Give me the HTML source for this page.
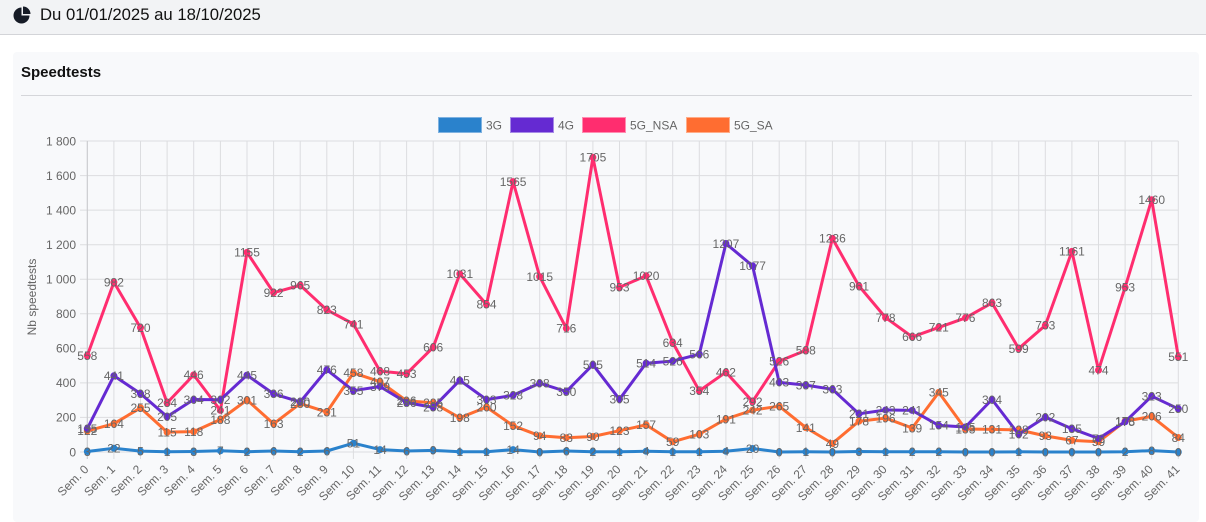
<!DOCTYPE html>
<html><head><meta charset="utf-8"><style>
html,body{margin:0;padding:0;background:#fff;width:1206px;height:505px;overflow:hidden;font-family:"Liberation Sans",Arial,sans-serif}
.hdr{position:absolute;left:0;top:0;width:1206px;height:35px;background:#f2f3f5;border-bottom:1px solid #d3d4d8;box-sizing:border-box}
.hdr .t{position:absolute;left:40px;top:5px;font-size:16.7px;color:#111;line-height:20px}
.card{position:absolute;left:13px;top:52px;width:1186px;height:470px;background:#f8f9fb;border-radius:4px}
.ttl{position:absolute;left:21px;top:64px;font-size:15px;font-weight:bold;color:#111}
.hr{position:absolute;left:21px;top:95px;width:1171px;height:1px;background:#d5d6da}
svg{position:absolute;left:0;top:0}
</style></head><body>
<div class="hdr">
<svg width="40" height="35" viewBox="0 0 40 35"><path d="M21.5,15.5 L21.5,7.5 A8,8 0 1,0 29.5,15.5 Z" fill="#161b26"/><path d="M23,14 L23,6.5 A7.5,7.5 0 0,1 30.5,14 Z" fill="#161b26"/></svg>
<div class="t">Du 01/01/2025 au 18/10/2025</div></div>
<div class="card"></div>
<div class="ttl">Speedtests</div>
<div class="hr"></div>
<svg width="1206" height="505" viewBox="0 0 1206 505" font-family="Liberation Sans, Arial, sans-serif" font-size="12">
<defs>
<marker id="m1" markerWidth="8" markerHeight="8" refX="4" refY="4" markerUnits="userSpaceOnUse"><circle cx="4" cy="4" r="3.5" fill="#2a82cc"/></marker>
<marker id="m2" markerWidth="8" markerHeight="8" refX="4" refY="4" markerUnits="userSpaceOnUse"><circle cx="4" cy="4" r="3.5" fill="#652ad2"/></marker>
<marker id="m3" markerWidth="8" markerHeight="8" refX="4" refY="4" markerUnits="userSpaceOnUse"><circle cx="4" cy="4" r="3.5" fill="#ff2d6f"/></marker>
<marker id="m4" markerWidth="8" markerHeight="8" refX="4" refY="4" markerUnits="userSpaceOnUse"><circle cx="4" cy="4" r="3.5" fill="#ff6d31"/></marker>
</defs>
<!-- legend -->
<rect x="438.5" y="117.5" width="43" height="15" fill="#2a82cc" stroke="#7fb2e0" stroke-width="1"/>
<text x="486" y="129.5" fill="#666">3G</text>
<rect x="510.5" y="117.5" width="43" height="15" fill="#652ad2" stroke="#a68ae6" stroke-width="1"/>
<text x="558" y="129.5" fill="#666">4G</text>
<rect x="582.5" y="117.5" width="43" height="15" fill="#ff2d6f" stroke="#ff8cb0" stroke-width="1"/>
<text x="630" y="129.5" fill="#666">5G_NSA</text>
<rect x="686.5" y="117.5" width="43" height="15" fill="#ff6d31" stroke="#ffac88" stroke-width="1"/>
<text x="734" y="129.5" fill="#666">5G_SA</text>
<!-- grid -->
<path stroke="#dcdde0" stroke-width="1" fill="none" d="M80,141H1178.3M80,175.6H1178.3M80,210.1H1178.3M80,244.7H1178.3M80,279.2H1178.3M80,313.8H1178.3M80,348.3H1178.3M80,382.9H1178.3M80,417.4H1178.3M80,452H1178.3
M87.3,141V459M113.9,141V459M140.5,141V459M167.1,141V459M193.7,141V459M220.4,141V459M247,141V459M273.6,141V459M300.2,141V459M326.8,141V459M353.4,141V459M380,141V459M406.6,141V459M433.2,141V459M459.8,141V459M486.5,141V459M513.1,141V459M539.7,141V459M566.3,141V459M592.9,141V459M619.5,141V459M646.1,141V459M672.7,141V459M699.3,141V459M725.9,141V459M752.6,141V459M779.2,141V459M805.8,141V459M832.4,141V459M859,141V459M885.6,141V459M912.2,141V459M938.8,141V459M965.4,141V459M992,141V459M1018.7,141V459M1045.3,141V459M1071.9,141V459M1098.5,141V459M1125.1,141V459M1151.7,141V459M1178.3,141V459"/>
<path stroke="#c9cacd" stroke-width="1" d="M87.3,141V459"/>
<!-- y ticks -->
<g fill="#666" text-anchor="end">
<text x="76" y="145.3">1 800</text>
<text x="76" y="179.9">1 600</text>
<text x="76" y="214.4">1 400</text>
<text x="76" y="249">1 200</text>
<text x="76" y="283.5">1 000</text>
<text x="76" y="318.1">800</text>
<text x="76" y="352.6">600</text>
<text x="76" y="387.2">400</text>
<text x="76" y="421.7">200</text>
<text x="76" y="456.3">0</text>
</g>
<text transform="translate(36,297) rotate(-90)" text-anchor="middle" fill="#666">Nb speedtests</text>
<!-- x labels -->
<g fill="#666" text-anchor="end">
<text x="89.3" y="470" transform="rotate(-45 89.3 470)">Sem. 0</text>
<text x="115.9" y="470" transform="rotate(-45 115.9 470)">Sem. 1</text>
<text x="142.5" y="470" transform="rotate(-45 142.5 470)">Sem. 2</text>
<text x="169.1" y="470" transform="rotate(-45 169.1 470)">Sem. 3</text>
<text x="195.7" y="470" transform="rotate(-45 195.7 470)">Sem. 4</text>
<text x="222.4" y="470" transform="rotate(-45 222.4 470)">Sem. 5</text>
<text x="249" y="470" transform="rotate(-45 249 470)">Sem. 6</text>
<text x="275.6" y="470" transform="rotate(-45 275.6 470)">Sem. 7</text>
<text x="302.2" y="470" transform="rotate(-45 302.2 470)">Sem. 8</text>
<text x="328.8" y="470" transform="rotate(-45 328.8 470)">Sem. 9</text>
<text x="355.4" y="470" transform="rotate(-45 355.4 470)">Sem. 10</text>
<text x="382" y="470" transform="rotate(-45 382 470)">Sem. 11</text>
<text x="408.6" y="470" transform="rotate(-45 408.6 470)">Sem. 12</text>
<text x="435.2" y="470" transform="rotate(-45 435.2 470)">Sem. 13</text>
<text x="461.8" y="470" transform="rotate(-45 461.8 470)">Sem. 14</text>
<text x="488.5" y="470" transform="rotate(-45 488.5 470)">Sem. 15</text>
<text x="515.1" y="470" transform="rotate(-45 515.1 470)">Sem. 16</text>
<text x="541.7" y="470" transform="rotate(-45 541.7 470)">Sem. 17</text>
<text x="568.3" y="470" transform="rotate(-45 568.3 470)">Sem. 18</text>
<text x="594.9" y="470" transform="rotate(-45 594.9 470)">Sem. 19</text>
<text x="621.5" y="470" transform="rotate(-45 621.5 470)">Sem. 20</text>
<text x="648.1" y="470" transform="rotate(-45 648.1 470)">Sem. 21</text>
<text x="674.7" y="470" transform="rotate(-45 674.7 470)">Sem. 22</text>
<text x="701.3" y="470" transform="rotate(-45 701.3 470)">Sem. 23</text>
<text x="727.9" y="470" transform="rotate(-45 727.9 470)">Sem. 24</text>
<text x="754.6" y="470" transform="rotate(-45 754.6 470)">Sem. 25</text>
<text x="781.2" y="470" transform="rotate(-45 781.2 470)">Sem. 26</text>
<text x="807.8" y="470" transform="rotate(-45 807.8 470)">Sem. 27</text>
<text x="834.4" y="470" transform="rotate(-45 834.4 470)">Sem. 28</text>
<text x="861" y="470" transform="rotate(-45 861 470)">Sem. 29</text>
<text x="887.6" y="470" transform="rotate(-45 887.6 470)">Sem. 30</text>
<text x="914.2" y="470" transform="rotate(-45 914.2 470)">Sem. 31</text>
<text x="940.8" y="470" transform="rotate(-45 940.8 470)">Sem. 32</text>
<text x="967.4" y="470" transform="rotate(-45 967.4 470)">Sem. 33</text>
<text x="994" y="470" transform="rotate(-45 994 470)">Sem. 34</text>
<text x="1020.7" y="470" transform="rotate(-45 1020.7 470)">Sem. 35</text>
<text x="1047.3" y="470" transform="rotate(-45 1047.3 470)">Sem. 36</text>
<text x="1073.9" y="470" transform="rotate(-45 1073.9 470)">Sem. 37</text>
<text x="1100.5" y="470" transform="rotate(-45 1100.5 470)">Sem. 38</text>
<text x="1127.1" y="470" transform="rotate(-45 1127.1 470)">Sem. 39</text>
<text x="1153.7" y="470" transform="rotate(-45 1153.7 470)">Sem. 40</text>
<text x="1180.3" y="470" transform="rotate(-45 1180.3 470)">Sem. 41</text>
</g>
<!-- series -->
<g fill="none" stroke-width="3" stroke-linejoin="round">
<polyline stroke="#ff6d31" marker-start="url(#m4)" marker-mid="url(#m4)" marker-end="url(#m4)" points="87.3,430.9 113.9,423.7 140.5,407.9 167.1,432.1 193.7,431.6 220.4,419.5 247,400 273.6,423.8 300.2,403.6 326.8,412.1 353.4,372.9 380,381.7 406.6,400.9 433.2,402.8 459.8,417.8 486.5,407.1 513.1,425.7 539.7,435.8 566.3,437.7 592.9,436.5 619.5,430.7 646.1,424.9 672.7,441.8 699.3,434.2 725.9,419 752.6,410.2 779.2,406.2 805.8,427.6 832.4,443.5 859,421.2 885.6,418.1 912.2,428 938.8,392.4 965.4,429 992,429.4 1018.7,429.9 1045.3,435.9 1071.9,440.4 1098.5,441.8 1125.1,421.2 1151.7,416.4 1178.3,437.5"/>
<polyline stroke="#ff2d6f" marker-start="url(#m3)" marker-mid="url(#m3)" marker-end="url(#m3)" points="87.3,355.6 113.9,282.3 140.5,327.6 167.1,402.9 193.7,374.9 220.4,410.4 247,252.4 273.6,292.7 300.2,285.3 326.8,309.8 353.4,324 380,371.1 406.6,373.7 433.2,347.3 459.8,273.9 486.5,304.4 513.1,181.6 539.7,276.6 566.3,328.3 592.9,157.4 619.5,287.3 646.1,275.8 672.7,342.5 699.3,390.8 725.9,372.2 752.6,401.5 779.2,361.1 805.8,350.4 832.4,238.4 859,286 885.6,317.6 912.2,336.9 938.8,327.4 965.4,317.9 992,302.9 1018.7,348.5 1045.3,325.4 1071.9,251.4 1098.5,370.1 1125.1,287.3 1151.7,199.7 1178.3,356.8"/>
<polyline stroke="#652ad2" marker-start="url(#m2)" marker-mid="url(#m2)" marker-end="url(#m2)" points="87.3,428.7 113.9,375.8 140.5,393.6 167.1,416.6 193.7,399.5 220.4,399.8 247,375.1 273.6,393.9 300.2,401.9 326.8,369.8 353.4,390.7 380,386.5 406.6,402.6 433.2,407.4 459.8,380.3 486.5,399.6 513.1,395.3 539.7,383.2 566.3,391.5 592.9,364.7 619.5,399.3 646.1,363.2 672.7,361.1 699.3,354.2 725.9,243.5 752.6,265.9 779.2,382.4 805.8,385.1 832.4,389.3 859,413.8 885.6,410 912.2,410.4 938.8,425.4 965.4,427 992,399.5 1018.7,434.4 1045.3,417.1 1071.9,428.7 1098.5,438.5 1125.1,421.8 1151.7,396.2 1178.3,408.8"/>
<polyline stroke="#2a82cc" marker-start="url(#m1)" marker-mid="url(#m1)" marker-end="url(#m1)" points="87.3,451.5 113.9,448.2 140.5,451.1 167.1,451.8 193.7,451.5 220.4,450.8 247,451.7 273.6,451 300.2,451.7 326.8,451 353.4,443.2 380,449.6 406.6,451 433.2,450.4 459.8,451.8 486.5,451.8 513.1,449.6 539.7,452 566.3,451 592.9,451.7 619.5,451.8 646.1,451.3 672.7,451.8 699.3,451.8 725.9,451.3 752.6,448.5 779.2,452 805.8,451.8 832.4,452 859,451.5 885.6,451.8 912.2,451.7 938.8,451.7 965.4,452 992,452 1018.7,451.8 1045.3,452 1071.9,452 1098.5,452 1125.1,451.7 1151.7,450.6 1178.3,452"/>
</g>
<!-- data labels -->
<g fill="#666" text-anchor="middle">
<text x="87.3" y="455.8">3</text><text x="113.9" y="452.5">22</text><text x="140.5" y="455.4">5</text><text x="167.1" y="456.1">1</text><text x="193.7" y="455.8">3</text><text x="220.4" y="455.1">7</text><text x="247" y="456">2</text><text x="273.6" y="455.3">6</text><text x="300.2" y="456">2</text><text x="326.8" y="455.3">6</text><text x="353.4" y="447.5">51</text><text x="380" y="453.9">14</text><text x="406.6" y="455.3">6</text><text x="433.2" y="454.7">9</text><text x="459.8" y="456.1">1</text><text x="486.5" y="456.1">1</text><text x="513.1" y="453.9">14</text><text x="539.7" y="456.3">0</text><text x="566.3" y="455.3">6</text><text x="592.9" y="456">2</text><text x="619.5" y="456.1">1</text><text x="646.1" y="455.6">4</text><text x="672.7" y="456.1">1</text><text x="699.3" y="456.1">1</text><text x="725.9" y="455.6">4</text><text x="752.6" y="452.8">20</text><text x="779.2" y="456.3">0</text><text x="805.8" y="456.1">1</text><text x="832.4" y="456.3">0</text><text x="859" y="455.8">3</text><text x="885.6" y="456.1">1</text><text x="912.2" y="456">2</text><text x="938.8" y="456">2</text><text x="965.4" y="456.3">0</text><text x="992" y="456.3">0</text><text x="1018.7" y="456.1">1</text><text x="1045.3" y="456.3">0</text><text x="1071.9" y="456.3">0</text><text x="1098.5" y="456.3">0</text><text x="1125.1" y="456">2</text><text x="1151.7" y="454.9">8</text><text x="1178.3" y="456.3">0</text>

<text x="87.3" y="433">135</text><text x="113.9" y="380.1">441</text><text x="140.5" y="397.9">338</text><text x="167.1" y="420.9">205</text><text x="193.7" y="403.8">304</text><text x="220.4" y="404.1">302</text><text x="247" y="379.4">445</text><text x="273.6" y="398.2">336</text><text x="300.2" y="406.2">290</text><text x="326.8" y="374.1">476</text><text x="353.4" y="395">355</text><text x="380" y="390.8">379</text><text x="406.6" y="406.9">286</text><text x="433.2" y="411.7">258</text><text x="459.8" y="384.6">415</text><text x="486.5" y="403.9">303</text><text x="513.1" y="399.6">328</text><text x="539.7" y="387.5">398</text><text x="566.3" y="395.8">350</text><text x="592.9" y="369">505</text><text x="619.5" y="403.6">305</text><text x="646.1" y="367.5">514</text><text x="672.7" y="365.4">526</text><text x="699.3" y="358.5">566</text><text x="725.9" y="247.8">1207</text><text x="752.6" y="270.2">1077</text><text x="779.2" y="386.7">403</text><text x="805.8" y="389.4">387</text><text x="832.4" y="393.6">363</text><text x="859" y="418.1">221</text><text x="885.6" y="414.3">243</text><text x="912.2" y="414.7">241</text><text x="938.8" y="429.7">154</text><text x="965.4" y="431.3">145</text><text x="992" y="403.8">304</text><text x="1018.7" y="438.7">102</text><text x="1045.3" y="421.4">202</text><text x="1071.9" y="433">135</text><text x="1098.5" y="442.8">78</text><text x="1125.1" y="426.1">175</text><text x="1151.7" y="400.5">323</text><text x="1178.3" y="413.1">250</text>

<text x="87.3" y="359.9">558</text><text x="113.9" y="286.6">982</text><text x="140.5" y="331.9">720</text><text x="167.1" y="407.2">284</text><text x="193.7" y="379.2">446</text><text x="220.4" y="414.7">241</text><text x="247" y="256.7">1155</text><text x="273.6" y="297">922</text><text x="300.2" y="289.6">965</text><text x="326.8" y="314.1">823</text><text x="353.4" y="328.3">741</text><text x="380" y="375.4">468</text><text x="406.6" y="378">453</text><text x="433.2" y="351.6">606</text><text x="459.8" y="278.2">1031</text><text x="486.5" y="308.7">854</text><text x="513.1" y="185.9">1565</text><text x="539.7" y="280.9">1015</text><text x="566.3" y="332.6">716</text><text x="592.9" y="161.7">1705</text><text x="619.5" y="291.6">953</text><text x="646.1" y="280.1">1020</text><text x="672.7" y="346.8">634</text><text x="699.3" y="395.1">354</text><text x="725.9" y="376.5">462</text><text x="752.6" y="405.8">292</text><text x="779.2" y="365.4">526</text><text x="805.8" y="354.7">588</text><text x="832.4" y="242.7">1236</text><text x="859" y="290.3">961</text><text x="885.6" y="321.9">778</text><text x="912.2" y="341.2">666</text><text x="938.8" y="331.7">721</text><text x="965.4" y="322.2">776</text><text x="992" y="307.2">863</text><text x="1018.7" y="352.8">599</text><text x="1045.3" y="329.7">733</text><text x="1071.9" y="255.7">1161</text><text x="1098.5" y="374.4">474</text><text x="1125.1" y="291.6">953</text><text x="1151.7" y="204">1460</text><text x="1178.3" y="361.1">551</text>

<text x="87.3" y="435.2">122</text><text x="113.9" y="428">164</text><text x="140.5" y="412.2">255</text><text x="167.1" y="436.4">115</text><text x="193.7" y="435.9">118</text><text x="220.4" y="423.8">188</text><text x="247" y="404.3">301</text><text x="273.6" y="428.1">163</text><text x="300.2" y="407.9">280</text><text x="326.8" y="416.4">231</text><text x="353.4" y="377.2">458</text><text x="380" y="386">407</text><text x="406.6" y="405.2">296</text><text x="433.2" y="407.1">285</text><text x="459.8" y="422.1">198</text><text x="486.5" y="411.4">260</text><text x="513.1" y="430">152</text><text x="539.7" y="440.1">94</text><text x="566.3" y="442">83</text><text x="592.9" y="440.8">90</text><text x="619.5" y="435">123</text><text x="646.1" y="429.2">157</text><text x="672.7" y="446.1">59</text><text x="699.3" y="438.5">103</text><text x="725.9" y="423.3">191</text><text x="752.6" y="414.5">242</text><text x="779.2" y="410.5">265</text><text x="805.8" y="431.9">141</text><text x="832.4" y="447.8">49</text><text x="859" y="425.5">178</text><text x="885.6" y="422.4">196</text><text x="912.2" y="432.3">139</text><text x="938.8" y="396.7">345</text><text x="965.4" y="433.3">133</text><text x="992" y="433.7">131</text><text x="1018.7" y="434.2">128</text><text x="1045.3" y="440.2">93</text><text x="1071.9" y="444.7">67</text><text x="1098.5" y="446.1">59</text><text x="1125.1" y="425.5">178</text><text x="1151.7" y="420.7">206</text><text x="1178.3" y="441.8">84</text>
</g>
</svg>
</body></html>
